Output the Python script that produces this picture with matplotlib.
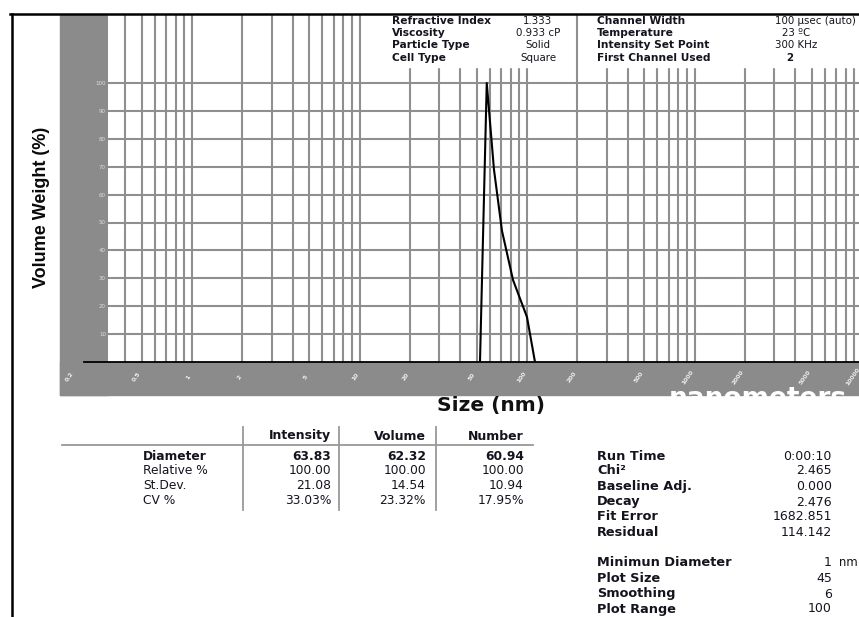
import numpy as np
import matplotlib
matplotlib.use("Agg")
import matplotlib.pyplot as plt
import matplotlib.transforms as mtransforms
from matplotlib.patches import Rectangle
from matplotlib.lines import Line2D

# size distribution (volume weighted)
size_nm = [52.4, 57.5, 63.5, 70.9, 82.5, 100.0, 111.6]
volume_pct = [0, 100, 69, 47, 29.4, 16.1, 0]

x_tick_vals = [0.2, 0.5, 1, 2, 5, 10, 20, 50, 100, 200, 500, 1000, 2000, 5000, 10000]
x_tick_text = ["0.2", "0.5", "1", "2", "5", "10", "20", "50", "100", "200",
               "500", "1000", "2000", "5000", "10000"]
y_tick_vals = [10, 20, 30, 40, 50, 60, 70, 80, 90, 100]

setup_left = ["Refractive Index", "Viscosity", "Particle Type", "Cell Type"]
setup_left_vals = ["1.333", "0.933 cP", "Solid", "Square"]
setup_right = ["Channel Width", "Temperature", "Intensity Set Point", "First Channel Used"]
setup_right_vals = ["100 µsec (auto)", "23 ºC", "300 KHz", "2"]

stat_cols = ["Intensity", "Volume", "Number"]
stat_rows = ["Diameter", "Relative %", "St.Dev.", "CV %"]
stat_vals = [["63.83", "62.32", "60.94"],
             ["100.00", "100.00", "100.00"],
             ["21.08", "14.54", "10.94"],
             ["33.03%", "23.32%", "17.95%"]]

fit_names = ["Run Time", "Chi²", "Baseline Adj.", "Decay", "Fit Error", "Residual"]
fit_vals = ["0:00:10", "2.465", "0.000", "2.476", "1682.851", "114.142"]
opt_names = ["Minimun Diameter", "Plot Size", "Smoothing", "Plot Range"]
opt_vals = ["1", "45", "6", "100"]

W, H = 859, 617
fig = plt.figure(figsize=(W / 100, H / 100), dpi=100)
fig.patch.set_facecolor("white")


def fx(px):
    return px / W


def fy(py):
    return 1 - py / H


GREY = "#8b8b8b"
GRID = "#8f8f8f"
INK = "#14141f"

# grey frame behind the axes
fig.patches.append(Rectangle((fx(60), fy(395)), fx(48), (395 - 15) / H,
                             transform=fig.transFigure, color=GREY, zorder=-1))
fig.patches.append(Rectangle((fx(60), fy(395)), fx(W - 60), (395 - 362) / H,
                             transform=fig.transFigure, color=GREY, zorder=-1))

ax = fig.add_axes([fx(108), fy(362), fx(W - 108), (362 - 15) / H])
ax.set_xscale("log")
px_per_dec = 167.5
ax.set_xlim(10 ** ((108 - 192) / px_per_dec), 10 ** ((W - 192) / px_per_dec))
ax.set_ylim(0, (362 - 15) / 2.79)
for s in ax.spines.values():
    s.set_visible(False)
ax.set_xticks([])
ax.set_xticks([], minor=True)
ax.set_yticks(y_tick_vals, [str(v) for v in y_tick_vals])
ax.tick_params(axis="y", length=0, pad=1.5, labelsize=4, labelcolor="#dddddd")

# log grid
grid_x = [m * 10.0 ** e for e in range(-1, 4) for m in range(1, 10)]
ax.vlines(grid_x, 0, ax.get_ylim()[1], color=GRID, lw=1.5, zorder=1)
ax.hlines(y_tick_vals, *ax.get_xlim(), color=GRID, lw=1.5, zorder=1)

ax.plot(size_nm, volume_pct, color="black", lw=1.5, zorder=3)

# x tick labels on the grey band
trans = mtransforms.blended_transform_factory(ax.transData, ax.transAxes)
for v, t in zip(x_tick_vals, x_tick_text):
    ax.text(min(v, 9800), (362 - 377) / 347, t, transform=trans, rotation=55,
            ha="right", va="center", fontsize=4.4, color="#eeeeee",
            fontweight="bold", clip_on=False)

# baseline and outer border
fig.lines.append(Line2D([fx(84), 1], [fy(362), fy(362)], color="black",
                        lw=1.3, transform=fig.transFigure, zorder=4))
fig.lines.append(Line2D([fx(10), 1], [fy(14), fy(14)], color="black",
                        lw=1.8, transform=fig.transFigure, zorder=4))
fig.lines.append(Line2D([fx(12), fx(12)], [fy(14), 0], color="black",
                        lw=1.8, transform=fig.transFigure, zorder=4))

fig.text(fx(42), fy(207), "Volume Weight (%)", rotation=90, ha="center",
         va="center", fontsize=13, family="Liberation Sans",
         fontweight="bold", color="#0a0a0a")
fig.text(fx(491), fy(406), "Size (nm)", ha="center", va="center",
         fontsize=14.5, fontweight="bold", color="#111111")

# watermark running off the grey band
fig.text(fx(669), fy(406), "nanometers", ha="left", va="baseline",
         fontsize=19, fontweight="bold", color="white", zorder=5)

# measurement setup boxes
for x0, x1 in [(385, 574), (579, W)]:
    fig.patches.append(Rectangle((fx(x0), fy(67)), fx(x1 - x0), (67 - 15) / H,
                                 transform=fig.transFigure, color="white", zorder=2))
row_y = [20.5, 33, 45.5, 58]
for i, y in enumerate(row_y):
    fig.text(fx(392), fy(y), setup_left[i], ha="left", va="center",
             fontsize=7.7, fontweight="bold", color=INK, zorder=6)
    fig.text(fx(538), fy(y), setup_left_vals[i], ha="center", va="center",
             fontsize=7.4, color=INK, zorder=6)
    fig.text(fx(597), fy(y), setup_right[i], ha="left", va="center",
             fontsize=7.7, fontweight="bold", color=INK, zorder=6)
fig.text(fx(775), fy(row_y[0]), setup_right_vals[0], ha="left", va="center",
         fontsize=7.4, color=INK)
fig.text(fx(782), fy(row_y[1]), setup_right_vals[1], ha="left", va="center",
         fontsize=7.4, color=INK)
fig.text(fx(775), fy(row_y[2]), setup_right_vals[2], ha="left", va="center",
         fontsize=7.4, color=INK)
fig.text(fx(786), fy(row_y[3]), setup_right_vals[3], ha="left", va="center",
         fontsize=7.4, fontweight="bold", color=INK)

# summary table
col_right = [331, 426, 524]
fig.lines.append(Line2D([fx(62), fx(533)], [fy(445), fy(445)], color="#999999",
                        lw=1.3, transform=fig.transFigure))
for sx in [243, 339, 436]:
    fig.lines.append(Line2D([fx(sx), fx(sx)], [fy(427), fy(510)], color="#999999",
                            lw=1.3, transform=fig.transFigure))
for c, name in enumerate(stat_cols):
    fig.text(fx(col_right[c]), fy(436), name, ha="right", va="center",
             fontsize=9, fontweight="bold", color=INK)
stat_y = [456, 470.5, 485.5, 500.5]
for r, name in enumerate(stat_rows):
    w = "bold" if r == 0 else "normal"
    fig.text(fx(143), fy(stat_y[r]), name, ha="left", va="center",
             fontsize=8.8, fontweight=w, color=INK)
    for c in range(3):
        fig.text(fx(col_right[c]), fy(stat_y[r]), stat_vals[r][c], ha="right",
                 va="center", fontsize=8.8, fontweight=w, color=INK)

# fit information
fit_y = [456, 471, 486.5, 502, 517, 532]
for name, val, y in zip(fit_names, fit_vals, fit_y):
    fig.text(fx(597), fy(y), name, ha="left", va="center", fontsize=9.3,
             fontweight="bold", color=INK)
    fig.text(fx(832), fy(y), val, ha="right", va="center", fontsize=9, color=INK)
opt_y = [563, 578, 594, 609]
for name, val, y in zip(opt_names, opt_vals, opt_y):
    fig.text(fx(597), fy(y), name, ha="left", va="center", fontsize=9.3,
             fontweight="bold", color=INK)
    fig.text(fx(832), fy(y), val, ha="right", va="center", fontsize=9, color=INK)
fig.text(fx(839), fy(563), "nm", ha="left", va="center", fontsize=8.4, color=INK)

fig.savefig("out.png", dpi=100, facecolor="white")
